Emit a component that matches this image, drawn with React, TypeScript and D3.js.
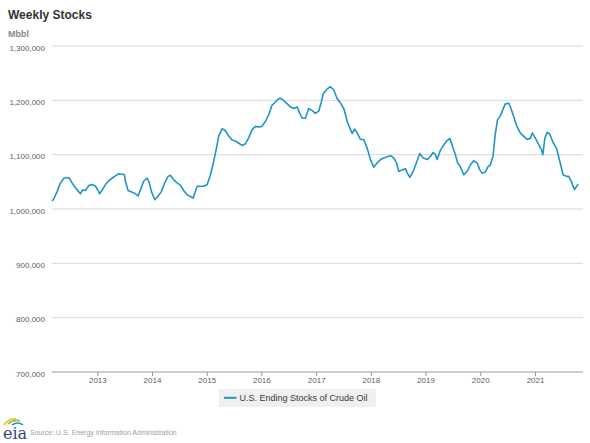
import { useEffect } from "react";
import * as d3 from "d3";

// weekly U.S. ending stocks of crude oil (thousand Mbbl)
const WEEKS = [
  "2012-03-01", "2012-03-12", "2012-04-04", "2012-04-26", "2012-05-18", "2012-06-10", "2012-06-25",
  "2012-07-13", "2012-08-04", "2012-08-26", "2012-09-06", "2012-09-22", "2012-10-10", "2012-11-01",
  "2012-11-24", "2012-12-16", "2013-01-01", "2013-01-12", "2013-01-30", "2013-02-21", "2013-03-15",
  "2013-04-07", "2013-04-29", "2013-05-21", "2013-06-13", "2013-06-28", "2013-07-04", "2013-07-22",
  "2013-08-18", "2013-09-09", "2013-09-27", "2013-10-12", "2013-11-03", "2013-11-26", "2013-12-11",
  "2013-12-25", "2014-01-16", "2014-02-08", "2014-03-01", "2014-03-23", "2014-04-15", "2014-04-30",
  "2014-05-22", "2014-06-14", "2014-07-06", "2014-07-28", "2014-08-20", "2014-09-11", "2014-09-29",
  "2014-10-14", "2014-10-26", "2014-11-17", "2014-12-09", "2015-01-01", "2015-01-23", "2015-02-14",
  "2015-03-04", "2015-03-19", "2015-04-11", "2015-05-03", "2015-05-25", "2015-06-17", "2015-07-08",
  "2015-07-31", "2015-08-22", "2015-09-13", "2015-10-05", "2015-10-28", "2015-11-19", "2015-12-11",
  "2016-01-02", "2016-01-24", "2016-02-15", "2016-03-09", "2016-03-31", "2016-04-22", "2016-05-03",
  "2016-05-25", "2016-06-17", "2016-07-09", "2016-07-31", "2016-08-23", "2016-09-10", "2016-09-26",
  "2016-10-18", "2016-11-09", "2016-12-02", "2016-12-24", "2017-01-15", "2017-01-30", "2017-02-14",
  "2017-03-12", "2017-04-03", "2017-04-25", "2017-05-18", "2017-06-09", "2017-07-01", "2017-07-24",
  "2017-08-15", "2017-08-26", "2017-09-12", "2017-09-28", "2017-10-20", "2017-11-11", "2017-12-04",
  "2017-12-26", "2018-01-17", "2018-02-09", "2018-03-03", "2018-03-25", "2018-04-17", "2018-05-09",
  "2018-05-31", "2018-06-18", "2018-07-03", "2018-07-26", "2018-08-17", "2018-08-28", "2018-09-15",
  "2018-10-07", "2018-10-29", "2018-11-20", "2018-12-13", "2019-01-09", "2019-01-31", "2019-02-18",
  "2019-03-05", "2019-03-16", "2019-04-07", "2019-04-29", "2019-05-22", "2019-06-08", "2019-06-24",
  "2019-07-16", "2019-07-31", "2019-08-18", "2019-09-10", "2019-10-02", "2019-10-24", "2019-11-15",
  "2019-12-08", "2019-12-26", "2020-01-10", "2020-02-01", "2020-02-19", "2020-03-05", "2020-03-23",
  "2020-04-07", "2020-04-22", "2020-05-10", "2020-05-28", "2020-06-12", "2020-07-05", "2020-07-21",
  "2020-08-07", "2020-08-30", "2020-09-21", "2020-10-13", "2020-11-05", "2020-11-27", "2020-12-10",
  "2021-01-01", "2021-01-23", "2021-02-10", "2021-02-19", "2021-03-04", "2021-03-20", "2021-04-06",
  "2021-04-29", "2021-05-21", "2021-06-12", "2021-07-04", "2021-07-27", "2021-08-11", "2021-08-29",
  "2021-09-18", "2021-10-06", "2021-10-12",
];

const STOCKS = [
  1015, 1018, 1032, 1048, 1056, 1058, 1057,
  1048, 1039, 1032, 1028, 1035, 1034, 1043,
  1045, 1042, 1035, 1028, 1035, 1045, 1052,
  1057, 1061, 1065, 1064, 1063, 1051, 1034,
  1031, 1028, 1024, 1035, 1051, 1057, 1048,
  1032, 1017, 1024, 1032, 1048, 1060, 1062,
  1054, 1048, 1044, 1034, 1026, 1023, 1020,
  1032, 1042, 1042, 1042, 1045, 1063, 1088,
  1112, 1134, 1148, 1144, 1134, 1127, 1125,
  1121, 1117, 1120, 1131, 1146, 1152, 1151,
  1152, 1161, 1173, 1191, 1197, 1203, 1204,
  1200, 1194, 1188, 1185, 1188, 1176, 1167,
  1167, 1185, 1181, 1176, 1180, 1195, 1212,
  1221, 1225, 1219, 1203, 1195, 1185, 1161,
  1146, 1139, 1147, 1140, 1128, 1128, 1112,
  1091, 1077, 1085, 1091, 1094, 1096, 1098,
  1094, 1085, 1069, 1072, 1074, 1067, 1058,
  1069, 1085, 1102, 1094, 1091, 1097, 1104,
  1100, 1091, 1108, 1118, 1126, 1130, 1118,
  1100, 1085, 1078, 1063, 1069, 1081, 1089,
  1085, 1072, 1066, 1068, 1078, 1081, 1097,
  1137, 1164, 1171, 1183, 1193, 1195, 1185,
  1171, 1152, 1140, 1134, 1128, 1130, 1140,
  1130, 1118, 1109, 1100, 1130, 1141, 1138,
  1122, 1112, 1088, 1063, 1060, 1060, 1050,
  1036, 1043, 1046,
];

const Y_TICKS = [700000, 800000, 900000, 1000000, 1100000, 1200000, 1300000];
const YEAR_TICKS = ["2013", "2014", "2015", "2016", "2017", "2018", "2019", "2020", "2021"];
const DATE_RANGE = ["2012-03-01", "2021-11-14"];

const SERIES_NAME = "U.S. Ending Stocks of Crude Oil";
const FONT = "'Liberation Sans', Arial, Helvetica, sans-serif";
const LINE_COLOR = "#1f95c6";

const W = 590;
const H = 443;
const plot = { left: 52, right: 583, top: 46, bottom: 372 };

export default function App() {
  useEffect(() => {
    document.body.style.margin = "0";
    document.body.style.overflow = "hidden";
  }, []);

  const parse = d3.utcParse("%Y-%m-%d");
  const x = d3
    .scaleUtc()
    .domain(DATE_RANGE.map((d) => parse(d) as Date))
    .range([plot.left, plot.right]);
  const y = d3.scaleLinear().domain([700000, 1300000]).range([plot.bottom, plot.top]);

  const points = WEEKS.map((d, i) => ({ date: parse(d) as Date, value: STOCKS[i] * 1000 }));
  const line = d3
    .line<{ date: Date; value: number }>()
    .x((d) => x(d.date))
    .y((d) => y(d.value));

  const fmt = d3.format(",");
  const yearDate = (yr: string) => parse(`${yr}-01-01`) as Date;

  return (
    <svg width={W} height={H} style={{ display: "block", fontFamily: FONT }}>
      <rect width={W} height={H} fill="#fff" />
      <text x={8} y={19} fontSize={12} fontWeight="bold" fill="#333">
        Weekly Stocks
      </text>
      <text x={8} y={37} fontSize={9} fontWeight="bold" fill="#8a8a8a">
        Mbbl
      </text>

      {Y_TICKS.slice(1).map((t) => (
        <line
          key={`g${t}`}
          x1={plot.left}
          x2={plot.right}
          y1={y(t)}
          y2={y(t)}
          stroke="#d9d9d9"
          strokeWidth={1}
        />
      ))}
      {Y_TICKS.map((t) => (
        <text
          key={`l${t}`}
          x={45}
          y={y(t) + 4.5}
          fontSize={8}
          fill="#606060"
          textAnchor="end"
        >
          {fmt(t)}
        </text>
      ))}

      <line
        x1={plot.left}
        x2={plot.right}
        y1={plot.bottom}
        y2={plot.bottom}
        stroke="#9a9a9a"
        strokeWidth={1}
      />
      {YEAR_TICKS.map((yr) => (
        <g key={yr} transform={`translate(${x(yearDate(yr))},0)`}>
          <line y1={plot.bottom} y2={plot.bottom + 4} stroke="#9a9a9a" />
          <text y={plot.bottom + 10.5} fontSize={8} fill="#606060" textAnchor="middle">
            {yr}
          </text>
        </g>
      ))}

      <path
        d={line(points) ?? ""}
        fill="none"
        stroke={LINE_COLOR}
        strokeWidth={1.6}
        strokeLinejoin="round"
      />

      <g>
        <rect x={219} y={389} width={157} height={18} fill="#eef0f2" />
        <line x1={224} x2={236.5} y1={397.8} y2={397.8} stroke={LINE_COLOR} strokeWidth={2} />
        <text x={239.5} y={401} fontSize={9} fill="#3a3a3a">
          {SERIES_NAME}
        </text>
      </g>

      <g>
        <path d="M4,425 Q9,418 16,419" fill="none" stroke="#f2c230" strokeWidth={1.6} />
        <path d="M8,424 Q14,419 20,421" fill="none" stroke="#8cc04b" strokeWidth={1.6} />
        <path d="M12,425 Q18,421 23,425" fill="none" stroke="#2c8fd0" strokeWidth={1.6} />
        <text x={3} y={439} fontSize={16} fontFamily="'DejaVu Serif', 'Liberation Serif', serif" fill="#2b4a78">
          eia
        </text>
        <text x={30} y={435} fontSize={7} fill="#a0a0a0">
          Source: U.S. Energy Information Administration
        </text>
      </g>
    </svg>
  );
}
